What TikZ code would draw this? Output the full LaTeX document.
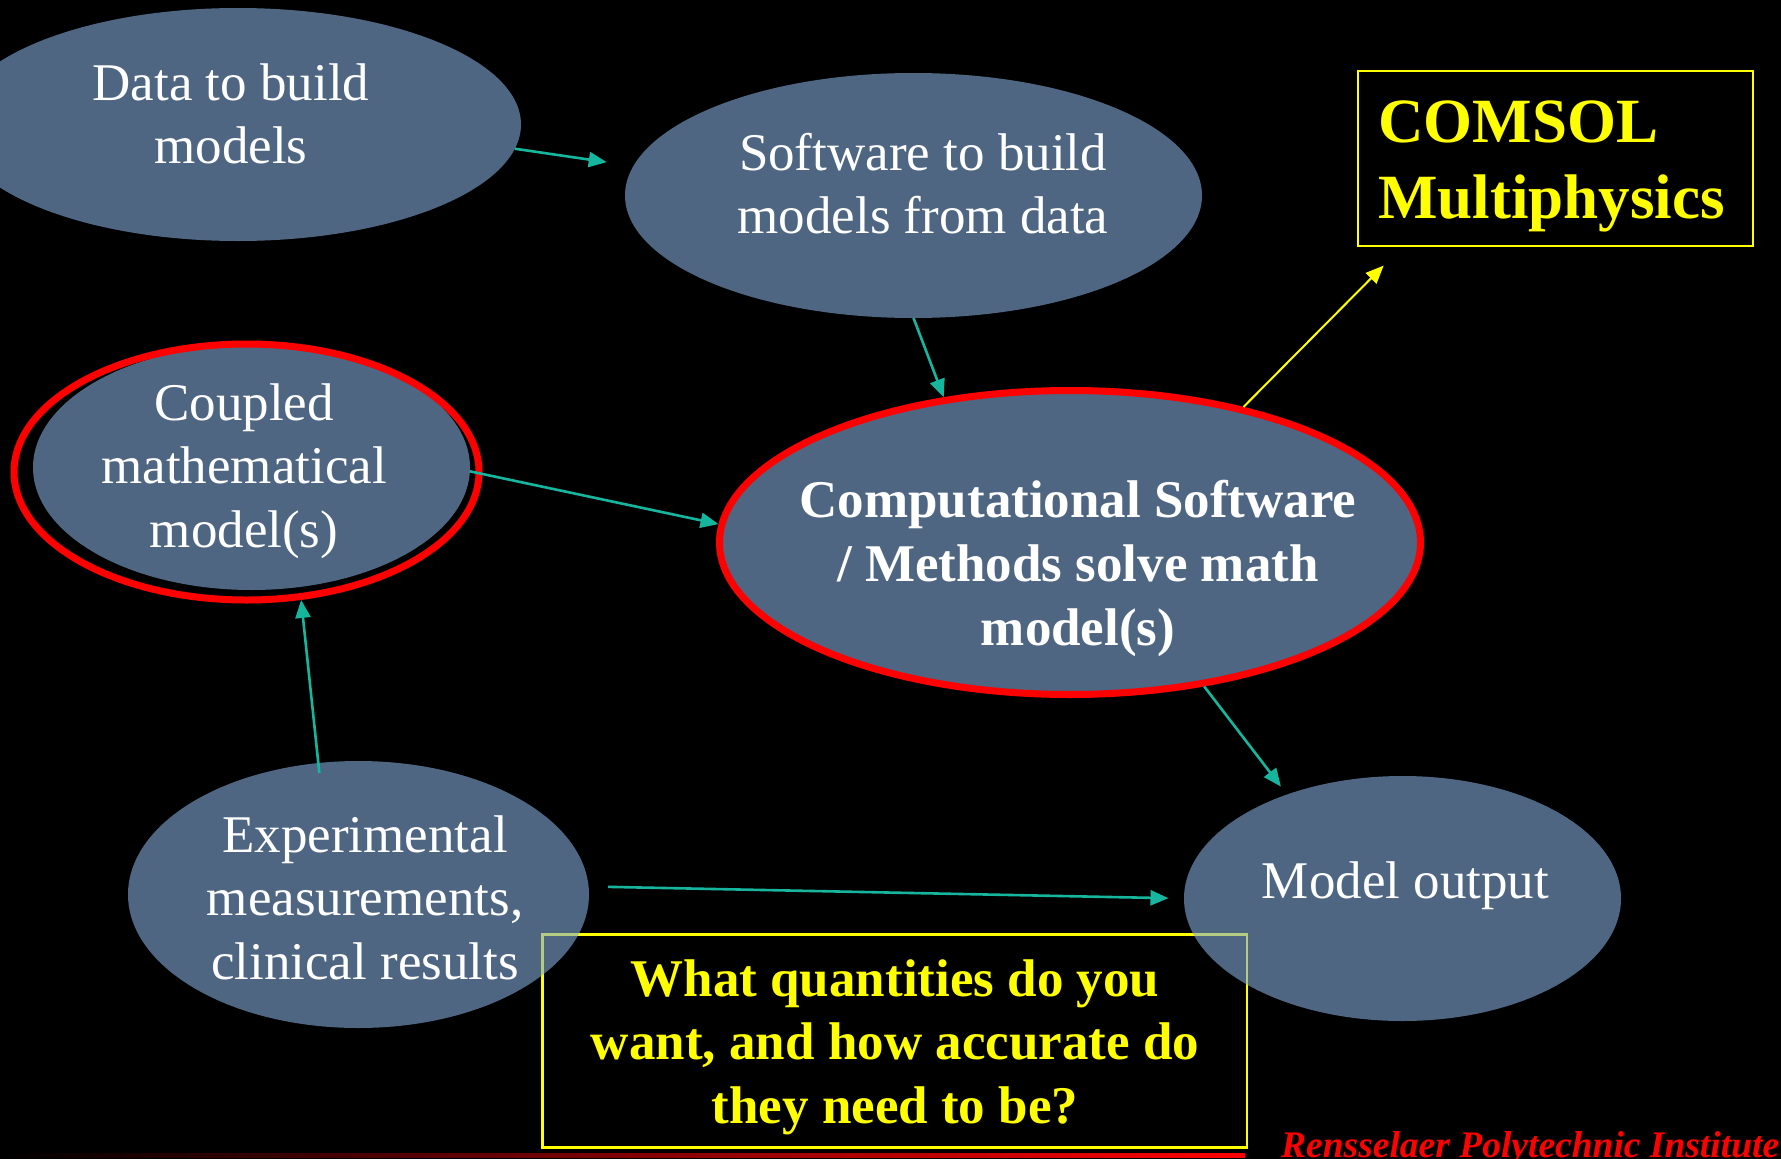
\documentclass[tikz,border=0pt]{standalone}
\usepackage{fontspec}
\setmainfont{Liberation Serif}
\usetikzlibrary{shapes.geometric,arrows.meta}

\definecolor{blobc}{RGB}{130,171,218}
\definecolor{linkc}{RGB}{22,182,158}
\definecolor{hiyel}{RGB}{255,255,0}

\newcommand\mlines[2][c]{\begin{tabular}[t]{@{}#1@{}}#2\end{tabular}}

\tikzset{
  blob/.style={ellipse, inner sep=0pt, outer sep=0pt, fill=blobc, fill opacity=0.6},
  hot/.style={draw=red, line width=7pt, outer sep=3.5pt},
  txt/.style={inner sep=0pt, anchor=base, text=white,
              font=\fontsize{53}{63.5}\selectfont},
  boldtxt/.style={txt, font=\fontsize{53}{64}\selectfont\bfseries},
  yeltxt/.style={inner sep=0pt, anchor=base, text=hiyel,
              font=\fontsize{53}{63.5}\selectfont\bfseries},
  ybox/.style={draw=hiyel, line width=2.3pt, inner sep=0pt},
  arr/.style={draw=linkc, line width=2.6pt, -{Triangle[length=18pt,width=15pt]}},
  yarr/.style={draw=hiyel, line width=2pt, -{Triangle[length=18pt,width=15pt]}},
}

\begin{document}
\begin{tikzpicture}[x=1pt,y=-1pt]
  % page
  \fill[black] (0,0) rectangle (1781,1159);
  \useasboundingbox (0,0) rectangle (1781,1159);

  % boxes behind the bubbles
  \node[ybox, minimum width=704.5pt, minimum height=213pt] (quest) at (894.75,1041) {};
  \node[ybox, minimum width=395pt, minimum height=175pt] (comsol) at (1555.5,158.5) {};

  % bubbles
  \node[blob, minimum width=566pt, minimum height=233pt] (data) at (238,124.5) {};
  \node[blob, minimum width=577pt, minimum height=245pt] (soft) at (913.5,195.5) {};
  \node[blob, minimum width=437pt, minimum height=245pt] (coupled) at (251.5,467.5) {};
  \node[blob, hot, minimum width=701pt, minimum height=304pt] (comp) at (1070,542.5) {};
  \node[blob, minimum width=461pt, minimum height=267pt] (exp) at (358.5,894.5) {};
  \node[blob, minimum width=437pt, minimum height=245pt] (model) at (1402.5,898.5) {};

  % highlight ring around the coupled model
  \draw[red, line width=7pt] (246.5,472) ellipse [x radius=232.5pt, y radius=128pt];

  % bubble texts
  \node[txt] (datat) at (231,100) {\mlines{Data to build\\models}};
  \node[txt] (softt) at (923,170) {\mlines{Software to build\\models from data}};
  \node[txt] (coupledt) at (244,420) {\mlines{Coupled\\mathematical\\model(s)}};
  \node[boldtxt] (compt) at (1078,517) {\mlines{Computational Software\\/ Methods solve math\\model(s)}};
  \node[txt] (expt) at (365,852) {\mlines{Experimental\\measurements,\\clinical results}};
  \node[txt] (modelt) at (1405.5,898) {Model output};

  % box texts
  \node[yeltxt, anchor=base west, font=\fontsize{63}{76}\selectfont\bfseries] (comsolt)
    at (1378,142) {\mlines[l]{COMSOL\\Multiphysics}};
  \node[yeltxt] (questt) at (895,996)
    {\mlines{What quantities do you\\want, and how accurate do\\they need to be?}};

  % connectors
  \draw[arr, shorten >=27pt] (data.-5) -- (soft.174.6);
  \draw[arr] (soft.south) -- (comp.131);
  \draw[arr] (coupled.-1) -- (comp.177);
  \draw[yarr, shorten >=26pt] (comp.38) -- (comsol.210.4);
  \draw[arr, shorten >=10pt] (comp.-47) -- (model.138.7);
  \draw[arr, shorten <=-10pt, shorten >=13pt] (exp.107) -- (coupled.-68);
  \draw[arr, shorten <=19.5pt, shorten >=15.5pt] (exp.2) -- (model.180);

  % footer
  \shade[left color=black, right color=red] (0,1153) rectangle (1245,1157);
  \node[inner sep=0pt, anchor=base west, text=red,
        font=\fontsize{37.5}{45}\selectfont\bfseries\itshape] (rpi)
    at (1281,1157) {Rensselaer Polytechnic Institute};
\end{tikzpicture}
\end{document}
